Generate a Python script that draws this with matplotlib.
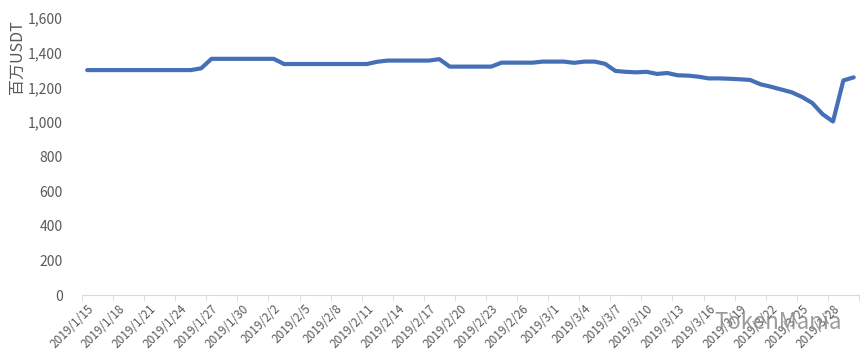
import datetime as dt
import matplotlib.pyplot as plt
from matplotlib.ticker import FuncFormatter, FixedLocator

plt.rcParams['font.family'] = ['Noto Sans CJK SC', 'DejaVu Sans']

# daily values, 2019/1/15 .. 2019/3/30 (millions of USDT)
start = dt.date(2019, 1, 15)
values = [
    1300, 1300, 1300, 1300, 1300, 1300, 1300, 1300, 1300, 1300, 1300,  # 1/15-1/25
    1310, 1365, 1365, 1365, 1365, 1365, 1365, 1365,                    # 1/26-2/2
    1335, 1335, 1335, 1335, 1335, 1335, 1335, 1335, 1335,              # 2/3-2/11
    1348, 1355, 1355, 1355, 1355, 1355, 1363,                          # 2/12-2/18
    1320, 1320, 1320, 1320, 1320, 1343, 1343, 1343, 1343,              # 2/19-2/27
    1349, 1349, 1349, 1342, 1349, 1349, 1336,                          # 2/28-3/6
    1295, 1290, 1287, 1290, 1278, 1283, 1270, 1268, 1262,              # 3/7-3/15
    1252, 1252, 1250, 1247, 1243, 1218, 1204, 1188, 1172,              # 3/16-3/24
    1145, 1110, 1045, 1003, 1240, 1258,                                # 3/25-3/30
]
dates = [start + dt.timedelta(days=i) for i in range(len(values))]
labels = [f"{d.year}/{d.month}/{d.day}" for d in dates]
y_ticks = [0, 200, 400, 600, 800, 1000, 1200, 1400, 1600]

fig = plt.figure(figsize=(8.68, 3.56), dpi=100)
ax = fig.add_axes([0.0945, 0.171, 0.895, 0.778])

x = list(range(len(values)))
ax.plot(x, values, color='#4570B8', lw=3, solid_joinstyle='round', solid_capstyle='round')

ax.set_xlim(-0.5, len(values) - 0.5)
ax.set_ylim(0, 1600)
ax.set_yticks(y_ticks)
ax.yaxis.set_major_formatter(FuncFormatter(lambda v, p: f"{int(v):,}"))
ax.tick_params(axis='y', length=0, labelsize=10, labelcolor='#595959', pad=14)

# labels every 3 days, tick marks on category boundaries
lab_pos = x[::3]
ax.set_xticks(lab_pos)
ax.set_xticklabels([labels[i] for i in lab_pos], rotation=45, ha='right',
                   rotation_mode='anchor', fontsize=8.5, color='#595959')
ax.tick_params(axis='x', which='major', length=0, pad=5)
ax.xaxis.set_minor_locator(FixedLocator([i - 0.5 for i in lab_pos] + [len(values) - 0.5]))
ax.tick_params(axis='x', which='minor', length=4, color='#d9d9d9', direction='out')

for s in ['top', 'right', 'left']:
    ax.spines[s].set_visible(False)
ax.spines['bottom'].set_color('#d9d9d9')

fig.text(0.01, 0.84, '百万USDT', rotation=90, ha='left', va='center',
         fontsize=11.5, color='#595959')

# watermark
fig.text(0.896, 0.095, 'TokenMania', ha='center', va='center', fontsize=16,
         color='#8a8a8a', alpha=0.85)

fig.savefig('out.png', dpi=100)
